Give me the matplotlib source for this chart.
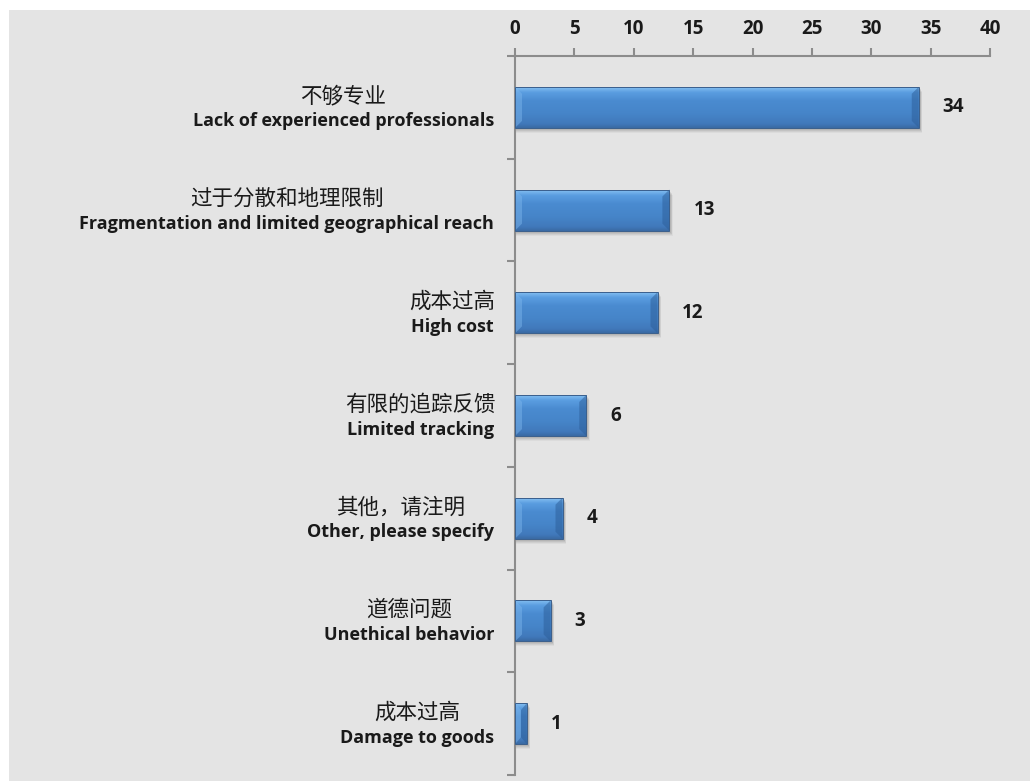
import matplotlib
matplotlib.use("Agg")
import matplotlib.pyplot as plt
import numpy as np
from matplotlib.patches import Rectangle, Polygon
from matplotlib.colors import LinearSegmentedColormap

# ---- data -------------------------------------------------------------
labels_cn = ["不够专业", "过于分散和地理限制", "成本过高", "有限的追踪反馈",
             "其他，请注明", "道德问题", "成本过高"]
labels_en = ["Lack of experienced professionals",
             "Fragmentation and limited geographical reach",
             "High cost", "Limited tracking", "Other, please specify",
             "Unethical behavior", "Damage to goods"]
values = [34, 13, 12, 6, 4, 3, 1]
x_ticks = [0, 5, 10, 15, 20, 25, 30, 35, 40]

plt.rcParams["font.family"] = ["Open Sans", "Noto Sans CJK SC", "DejaVu Sans"]

W, H = 1030, 781
fig = plt.figure(figsize=(W / 100, H / 100), dpi=100)
fig.patch.set_facecolor("white")
fig.add_artist(Rectangle((9 / W, 0), 1, 1 - 10 / H, transform=fig.transFigure,
                         facecolor="#e4e4e4", edgecolor="none", zorder=0))

ax_left, ax_top, ax_right, ax_bottom = 515, 56, 990, 775
ax = fig.add_axes([ax_left / W, 1 - ax_bottom / H,
                   (ax_right - ax_left) / W, (ax_bottom - ax_top) / H])
ax.set_facecolor("none")

n = len(values)
ypos = np.arange(n)[::-1]
xmax = x_ticks[-1]
ax.set_xlim(0, xmax)
ax.set_ylim(-0.5, n - 0.5)

# data units per pixel
dx = xmax / (ax_right - ax_left)
dy = n / (ax_bottom - ax_top)

bar_h = 0.4
# bottom -> top colours of the bar face
face_cmap = LinearSegmentedColormap.from_list(
    "face", [(0.0, "#3a6aa3"), (0.1, "#4179bb"), (0.35, "#4685c9"),
             (0.65, "#4a8bd0"), (0.85, "#5a9de0"), (1.0, "#8cc5f4")])
grad = np.linspace(0, 1, 128).reshape(-1, 1)

bars = ax.barh(ypos, values, height=bar_h, color="#4a8bd0",
               edgecolor="none", zorder=3)

for rect, v in zip(bars, values):
    x0, y0 = rect.get_x(), rect.get_y()
    x1, y1 = x0 + rect.get_width(), y0 + rect.get_height()

    # soft drop shadow under the bar
    for k, a in [(5, 0.04), (4, 0.05), (3, 0.06), (2, 0.07)]:
        ax.add_patch(Rectangle((x0 + 1 * dx, y0 - k * dy),
                               (x1 - x0) + k * 0.5 * dx, (y1 - y0),
                               facecolor="black", alpha=a,
                               edgecolor="none", zorder=2))

    # vertical gradient on the bar face
    im = ax.imshow(grad, cmap=face_cmap, origin="lower", aspect="auto",
                   extent=(x0, x1, y0, y1), zorder=3.1,
                   interpolation="bilinear")
    im.set_clip_path(rect)

    # bevelled ends
    bx = min(7 * dx, (x1 - x0) / 2)
    by = 7 * dy
    left = Polygon([(x0, y0), (x0, y1), (x0 + bx, y1 - by), (x0 + bx, y0 + by)],
                   closed=True, facecolor="#7fb8ee", alpha=0.45,
                   edgecolor="none", zorder=3.2)
    right = Polygon([(x1, y0), (x1, y1), (x1 - bx, y1 - by), (x1 - bx, y0 + by)],
                    closed=True, facecolor="#2c5d98", alpha=0.5,
                    edgecolor="none", zorder=3.2)
    ax.add_patch(left)
    ax.add_patch(right)
    ax.add_patch(Rectangle((x0, y0), x1 - x0, y1 - y0, facecolor="none",
                           edgecolor="#3a5f8c", lw=0.7, zorder=3.3))

    ax.annotate(str(v), xy=(v, rect.get_y() + bar_h / 2), xytext=(24, 0),
                textcoords="offset pixels", ha="left", va="center",
                fontsize=13.5, fontweight="bold", color="#1a1a1a")

# ---- axes styling -----------------------------------------------------
axis_gray = "#8c8c8c"
ax.xaxis.tick_top()
ax.set_xticks(x_ticks)
ax.set_xticklabels([str(t) for t in x_ticks], fontsize=13.5,
                   fontweight="bold", color="#1a1a1a")
ax.tick_params(axis="x", which="major", length=6, width=1.5,
               color=axis_gray, pad=6)
ax.set_yticks(np.arange(-0.5, n, 1.0))
ax.set_yticklabels([])
ax.tick_params(axis="y", which="major", length=6, width=1.5,
               color=axis_gray, left=True)
for side in ("right", "bottom"):
    ax.spines[side].set_visible(False)
for side in ("top", "left"):
    ax.spines[side].set_color(axis_gray)
    ax.spines[side].set_linewidth(1.5)
ax.set_xlim(0, xmax)
ax.set_ylim(-0.5, n - 0.5)

# ---- two-line category labels -----------------------------------------
en_texts = []
for y, en in zip(ypos, labels_en):
    t = ax.annotate(en, xy=(0, y), xycoords="data", xytext=(-21, -14),
                    textcoords="offset pixels", ha="right", va="center",
                    fontsize=13, fontweight="bold", color="#1a1a1a",
                    annotation_clip=False)
    en_texts.append(t)

fig.canvas.draw()
renderer = fig.canvas.get_renderer()
for y, cn, t in zip(ypos, labels_cn, en_texts):
    w = t.get_window_extent(renderer).width
    ax.annotate(cn, xy=(0, y), xycoords="data", xytext=(-21 - w / 2, 11),
                textcoords="offset pixels", ha="center", va="center",
                fontsize=15.5, color="#1a1a1a",
                family=["Noto Sans CJK SC", "DejaVu Sans"],
                annotation_clip=False)

fig.savefig("out.png", dpi=100)
